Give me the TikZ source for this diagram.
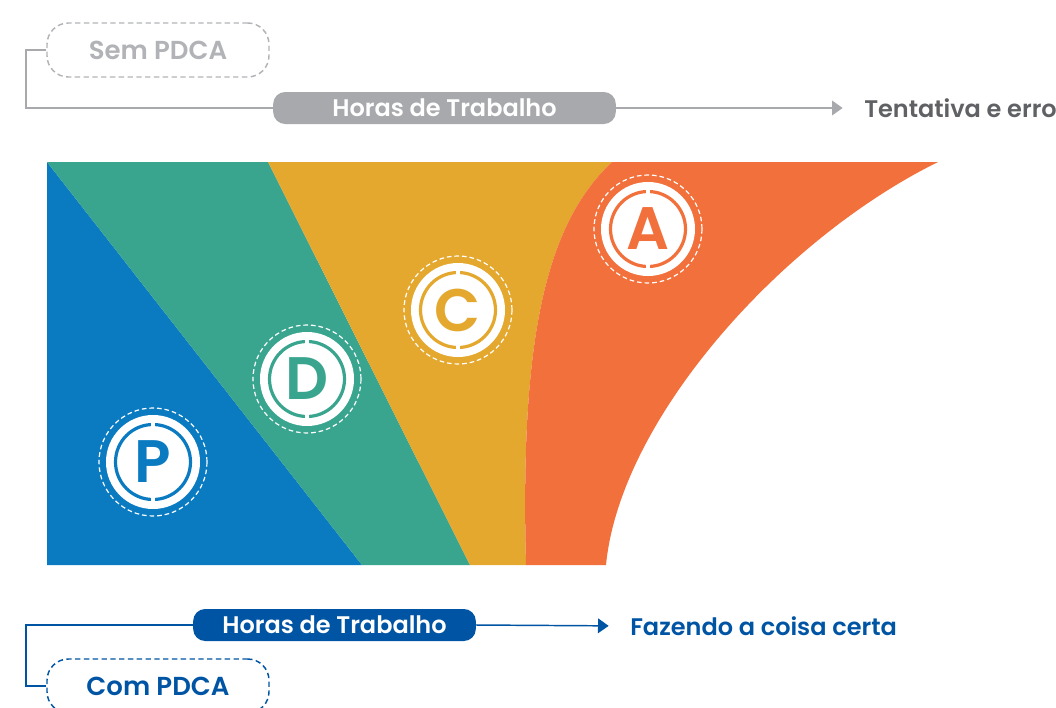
\documentclass[tikz,border=0pt]{standalone}
\usepackage{fontspec}
\setmainfont{Poppins}[BoldFont={Poppins SemiBold}]
\usepackage{tikz}
\usetikzlibrary{positioning, arrows.meta}
\definecolor{pblue}{HTML}{0A7BC1}
\definecolor{dgreen}{HTML}{3AA58F}
\definecolor{cyellow}{HTML}{E4A82F}
\definecolor{aorange}{HTML}{F2703B}
\definecolor{bargray}{HTML}{A7A9AC}
\definecolor{semgray}{HTML}{B1B3B6}
\definecolor{textgray}{HTML}{606164}
\definecolor{pdcablue}{HTML}{0054A4}
\newcommand\pdcamark[5]{\fill[white] (#2,#3) circle (47);\draw[white, line width=0.9pt, dash pattern=on 3.5pt off 2.2pt] (#2,#3) circle (54);\draw[#5, line width=2.4pt] (#2,#3) circle (37.5);\fill[white, shift={(#2,#3)}] (-2.2,-43) rectangle (2.2,-32);\fill[white, shift={(#2,#3)}] (-2.2,32) rectangle (2.2,43);\node[text=#5, font=\fontsize{45}{45}\selectfont\bfseries, inner sep=0pt] (#1) at (#2,#3) {#4};}
\tikzset{
  pdcabox/.style={line width=1.1pt, dash pattern=on 4pt off 2.6pt, rounded corners=16pt, minimum width=166.5pt, minimum height=40.5pt, font=\fontsize{19.5}{19.5}\selectfont\bfseries},
  hourbar/.style={rounded corners=9pt, text=white, minimum height=24pt, inner sep=0pt, font=\fontsize{18}{18}\selectfont\bfseries},
  lbl/.style={font=\fontsize{18}{18}\selectfont\bfseries, inner sep=0pt},
  link/.style={line width=1.1pt}
}

\begin{document}
\begin{tikzpicture}[x=0.75pt, y=-0.75pt]
\clip (0,0) rectangle (1056,707);

% Sem PDCA
\node[pdcabox, draw=semgray, text=semgray] (sem) at (158,50) {Sem PDCA};
\node[hourbar, fill=bargray, minimum width=257pt] (topbar) at (444.5,108) {Horas de Trabalho};
\node[lbl, text=textgray, anchor=west] (tentativa) at (864,108) {Tentativa e erro};
\coordinate (topbend) at (26,50);
\draw[link, bargray] (sem.west) -- (topbend) |- (topbar.west);
\draw[link, bargray, -{Triangle[length=8pt, width=11pt]}, shorten >=16pt] (topbar.east) -- (tentativa.west);

% stages
\fill[pblue] (47,162) -- (362,565) -- (47,565) -- cycle;
\fill[dgreen] (47,162) -- (268,162) -- (470,565) -- (362,565) -- cycle;
\fill[cyellow] (268,162) -- (612,162) .. controls (545,225) and (520,340) .. (526,565) -- (470,565) -- cycle;
\fill[aorange] (612,162) -- (938,162) .. controls (780,240) and (620,420) .. (606,565) -- (526,565) .. controls (520,340) and (545,225) .. (612,162) -- cycle;

\pdcamark{P}{153}{462}{P}{pblue}
\pdcamark{D}{307}{379}{D}{dgreen}
\pdcamark{C}{458}{310}{C}{cyellow}
\pdcamark{A}{648}{229}{A}{aorange}

% Com PDCA
\node[hourbar, fill=pdcablue, minimum width=212pt] (botbar) at (334.5,625) {Horas de Trabalho};
\node[lbl, text=pdcablue, anchor=west] (fazendo) at (630,626) {Fazendo a coisa certa};
\node[pdcabox, draw=pdcablue, text=pdcablue] (com) at (158,686) {Com PDCA};
\coordinate (botbend) at (26,686);
\draw[link, pdcablue] (botbar.west) -| (botbend) -- (com.west);
\draw[link, pdcablue, -{Triangle[length=8pt, width=11pt]}, shorten >=16pt] (botbar.east) -- (fazendo.west);
\end{tikzpicture}
\end{document}
